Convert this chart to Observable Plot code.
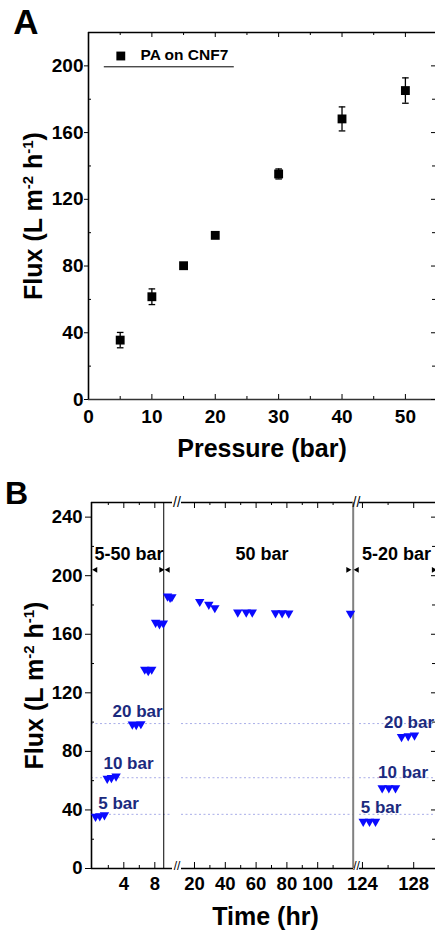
<!DOCTYPE html>
<html><head><meta charset="utf-8">
<script src="https://cdn.jsdelivr.net/npm/d3@7"></script>
<script src="https://cdn.jsdelivr.net/npm/@observablehq/plot@0.6"></script>
<style>
body{margin:0;background:#fff;}
#fig{position:relative;width:435px;height:932px;overflow:hidden;}
#fig svg{position:absolute;left:0;}
</style></head><body><div id="fig"></div>
<script>
// ---------- Panel A data ----------
const pressure = [5, 10, 15, 20, 30, 40, 50];
const fluxA = [35.6, 61.6, 80.2, 98.4, 135.2, 168.2, 185.2];
const errA = [4.6, 4.7, 1.5, 1.2, 3.0, 7.2, 7.6];
const seriesA = "PA on CNF7";
const xTicksA = [0, 10, 20, 30, 40, 50];
const xMinorA = [5, 15, 25, 35, 45];
const yTicksA = [0, 40, 80, 120, 160, 200];
const yMinorA = [20, 60, 100, 140, 180, 220];
const xDomainA = [0, 54.75];
const yDomainA = [0, 220];

// ---------- Panel B data (broken time axis: three segments) ----------
const seg1Time = [0.35, 0.9, 1.5, 1.86, 2.4, 3.0, 5.1, 5.6, 6.2, 6.7, 7.15, 7.6, 8.1, 8.6, 9.1, 9.64, 9.97, 10.2];
const seg1Flux = [35.5, 35.8, 36.5, 61.5, 62, 63, 98.5, 98.2, 98.8, 136, 135, 136, 168, 167, 167.5, 186, 185, 185.5];
const seg2Time = [23.4, 29.3, 33.2, 48.1, 53.6, 57.5, 72.6, 76.9, 81.2, 121.3];
const seg2Flux = [182.3, 180.3, 178, 175, 175, 175, 174.5, 174.5, 174.3, 174.2];
const seg3Time = [124.06, 124.55, 125.02, 125.54, 126.06, 126.58, 127.05, 127.57, 128.06];
const seg3Flux = [32.1, 32.1, 32.1, 55, 55, 55, 90, 90.5, 91];
const seg1Domain = [-0.17, 10.28];
const seg2Domain = [11.56, 123.25];
const seg3Domain = [123.77, 129.7];
const yDomainB = [0, 250];
const yTicksB = [0, 40, 80, 120, 160, 200, 240];
const yMinorB = [20, 60, 100, 140, 180, 220];
const seg1Ticks = [4, 8], seg1Minor = [2, 6];
const seg2Ticks = [20, 40, 60, 80, 100], seg2Minor = [30, 50, 70, 90, 110];
const seg3Ticks = [124, 128], seg3Minor = [126];
const refFlux = [37, 62, 99];
const pLabels = ["5 bar", "10 bar", "20 bar"];
const pLabelTime1 = [3.32, 4.6, 5.77], pLabelFlux1 = [44.4, 71.9, 107.3];
const pLabelTime3 = [125.45, 127.17, 127.63], pLabelFlux3 = [41.6, 65.6, 99.5];
const stageLabels = ["5-50 bar", "50 bar", "5-20 bar"];
const stageTime = [4.67, 63.9, 126.66];
const stageFlux = 214.5;
const arrowFlux = 204;
const arrowTime1 = [0.35, 8.8, 9.7], arrowDir1 = ["left", "right", "left"];
const arrowTime2 = [119.7], arrowDir2 = ["right"];
const arrowTime3 = [123.58, 129.55], arrowDir3 = ["left", "right"];
const sep1Time = 9.15, sep2Time = 123.05;
const yTitle = "Flux (L m-2 h-1)";

// ---------- styles ----------
const FONT = '"Liberation Sans", Arial, sans-serif';
const BLUE = "#0a0aff", NAVY = "#1b2a7e";
const hline = half => ({draw(ctx) { ctx.moveTo(-half, 0); ctx.lineTo(half, 0); }});
const tri = dir => ({draw(ctx, size) {
  const s = Math.sqrt(size * 4 / Math.sqrt(3)), h = s * Math.sqrt(3) / 2;
  const pts = {down: [[-s/2, -h/3], [s/2, -h/3], [0, 2*h/3]],
               left: [[h/3, -s/2], [h/3, s/2], [-2*h/3, 0]],
               right: [[-h/3, -s/2], [-h/3, s/2], [2*h/3, 0]]}[dir];
  ctx.moveTo(...pts[0]); ctx.lineTo(...pts[1]); ctx.lineTo(...pts[2]); ctx.closePath();
}});
const styleObj = {background: "transparent", fontFamily: FONT, overflow: "visible"};
const C = {textAnchor: "middle", lineAnchor: "middle"};
const fig = document.getElementById("fig");

function supify(svg) {
  svg.querySelectorAll("text").forEach(t => {
    if (t.textContent === yTitle) {
      t.textContent = "";
      const parts = [["Flux (L m", 0, null], ["-2", -9, 15], [" h", 9, null], ["-1", -9, 15], [")", 9, null]];
      for (const [s, dy, fs] of parts) {
        const ts = document.createElementNS("http://www.w3.org/2000/svg", "tspan");
        ts.textContent = s;
        if (dy) ts.setAttribute("dy", dy);
        if (fs) ts.setAttribute("font-size", fs);
        t.appendChild(ts);
      }
    }
  });
}

// ---------- Panel A ----------
const dataA = pressure.map((p, i) => ({p, f: fluxA[i], e: errA[i]}));
const mA = {l: 88, r: 0, t: 32, b: 71, h: 470};
const fwA = 435 - mA.l - mA.r, fhA = mA.h - mA.t - mA.b;
const plotA = Plot.plot({
  width: 435, height: mA.h, marginLeft: mA.l, marginRight: mA.r, marginTop: mA.t, marginBottom: mA.b,
  style: styleObj,
  x: {domain: xDomainA, axis: null}, y: {domain: yDomainA, axis: null},
  marks: [
    Plot.ruleX([xDomainA[0]], {x: d => d, stroke: "black", strokeWidth: 1.6}),
    Plot.ruleY([yDomainA[0]], {y: d => d, stroke: "#333", strokeWidth: 1.6}),
    Plot.ruleY([yDomainA[1]], {y: d => d, stroke: "black", strokeWidth: 1.4}),
    Plot.tickX(xTicksA, {x: d => d, insetTop: fhA - 5}),
    Plot.tickX(xMinorA, {x: d => d, insetTop: fhA - 3}),
    Plot.tickX(xTicksA, {x: d => d, insetBottom: fhA - 5}),
    Plot.tickX(xMinorA, {x: d => d, insetBottom: fhA - 3}),
    Plot.tickY(yMinorA, {y: d => d, insetRight: fwA - 3}),
    Plot.tickY(yTicksA, {y: d => d, insetLeft: fwA - 4}),
    Plot.tickY(yMinorA, {y: d => d, insetLeft: fwA - 3}),
    Plot.axisY(yTicksA, {tickSize: 4, tickPadding: 1, fontSize: 19, fontWeight: "bold", label: null}),
    Plot.axisX(xTicksA, {tickSize: 0, tickPadding: 9.5, fontSize: 19, fontWeight: "bold", label: null}),
    Plot.ruleX(dataA, {x: "p", y1: d => d.f - d.e, y2: d => d.f + d.e, stroke: "black", strokeWidth: 1.3}),
    Plot.dot(dataA, {x: "p", y: d => d.f - d.e, symbol: hline(3.3), fill: "none", stroke: "black", strokeWidth: 1.3}),
    Plot.dot(dataA, {x: "p", y: d => d.f + d.e, symbol: hline(3.3), fill: "none", stroke: "black", strokeWidth: 1.3}),
    Plot.dot(dataA, {x: "p", y: "f", symbol: "square", r: 5, fill: "black"}),
    // legend
    Plot.dot([seriesA], {frameAnchor: "top-left", dx: 32.3, dy: 23.5, symbol: "square", r: 5, fill: "black"}),
    Plot.text([seriesA], {text: d => d, frameAnchor: "top-left", dx: 52, dy: 23, textAnchor: "start", lineAnchor: "middle", fontSize: 15.5, fontWeight: "bold", fill: "black"}),
    Plot.dot([seriesA], {frameAnchor: "top-left", dx: 80.3, dy: 34.3, symbol: hline(65), fill: "none", stroke: "black", strokeWidth: 1}),
    // titles
    Plot.text(["Pressure (bar)"], {...C, text: d => d, frameAnchor: "bottom", dy: 49.6, fontSize: 25, fontWeight: "bold", fill: "black"}),
    Plot.text([yTitle], {...C, text: d => d, frameAnchor: "left", dx: -55, rotate: -90, fontSize: 25, fontWeight: "bold", fill: "black"}),
    Plot.text(["A"], {...C, text: d => d, frameAnchor: "top-left", dx: -62.5, dy: -9.5, fontSize: 35, fontWeight: "bold", fill: "black"})
  ]
});
plotA.style.top = "0px";
supify(plotA);
fig.appendChild(plotA);

// ---------- Panel B ----------
const mB = {t: 32, b: 64, h: 462};
const fhB = mB.h - mB.t - mB.b;
function segPlot(domain, mL, mR, marks) {
  const p = Plot.plot({
    width: 435, height: mB.h, marginLeft: mL, marginRight: mR, marginTop: mB.t, marginBottom: mB.b,
    style: styleObj,
    x: {domain, axis: null}, y: {domain: yDomainB, axis: null},
    marks
  });
  p.style.top = "470px";
  supify(p);
  fig.appendChild(p);
  return p;
}
const common = (ticks, minor) => [
  Plot.ruleY(refFlux, {y: d => d, stroke: "#a9aee8", strokeWidth: 1, strokeDasharray: "2,2.5"}),
  Plot.ruleY([yDomainB[0]], {y: d => d, stroke: "black", strokeWidth: 1.6}),
  Plot.ruleY([yDomainB[1]], {y: d => d, stroke: "black", strokeWidth: 1.4}),
  Plot.tickX(ticks, {x: d => d, insetTop: fhB - 6}),
  Plot.tickX(minor, {x: d => d, insetTop: fhB - 3}),
  Plot.tickX(ticks, {x: d => d, insetBottom: fhB - 6}),
  Plot.tickX(minor, {x: d => d, insetBottom: fhB - 3}),
  Plot.axisX(ticks, {tickSize: 0, tickPadding: 8.7, fontSize: 18.5, fontWeight: "bold", label: null})
];
const pts = (time, flux) => Plot.dot(time, {x: d => d, y: (d, i) => flux[i], symbol: tri("down"), r: 3.5, fill: BLUE});
const arrows = (time, dir) => ["left", "right"].map(k =>
  Plot.dot(time.filter((d, i) => dir[i] === k), {x: d => d, y: () => arrowFlux, symbol: tri(k), r: 2.2, fill: "black"}));
const stage = i => Plot.text([stageLabels[i]], {...C, text: d => d, x: () => stageTime[i], y: () => stageFlux, fontSize: 18, fontWeight: "bold", fill: "black"});
const plabels = (time, flux) => Plot.text(pLabels, {...C, text: d => d, x: (d, i) => time[i], y: (d, i) => flux[i], fontSize: 17, fontWeight: "bold", fill: NAVY});
const brk = dx => [
  Plot.text(["//"], {...C, text: d => d, frameAnchor: "top-right", dx, fontSize: 14, fill: "black"}),
  Plot.text(["//"], {...C, text: d => d, frameAnchor: "bottom-right", dx, dy: -2.5, fontSize: 12, fill: "black"})
];

// segment 1
const fw1 = 435 - 91 - 263;
segPlot(seg1Domain, 91, 263, [
  ...common(seg1Ticks, seg1Minor),
  Plot.ruleX([seg1Domain[0]], {x: d => d, stroke: "black", strokeWidth: 1.6}),
  Plot.ruleX([sep1Time], {x: d => d, stroke: "black", strokeWidth: 1}),
  Plot.tickY(yMinorB, {y: d => d, insetRight: fw1 - 3}),
  Plot.axisY(yTicksB, {tickSize: 6, tickPadding: 3, fontSize: 18.5, fontWeight: "bold", label: null}),
  pts(seg1Time, seg1Flux),
  plabels(pLabelTime1, pLabelFlux1),
  stage(0),
  ...arrows(arrowTime1, arrowDir1),
  ...brk(4.5),
  Plot.text([yTitle], {...C, text: d => d, frameAnchor: "left", dx: -57, rotate: -90, fontSize: 25, fontWeight: "bold", fill: "black"}),
  Plot.text(["B"], {...C, text: d => d, frameAnchor: "top-left", dx: -75, dy: -8.5, fontSize: 32, fontWeight: "bold", fill: "black"})
]);

// segment 2
segPlot(seg2Domain, 181, 82, [
  ...common(seg2Ticks, seg2Minor),
  Plot.ruleX([sep2Time], {x: d => d, stroke: "#808080", strokeWidth: 2}),
  pts(seg2Time, seg2Flux),
  stage(1),
  ...arrows(arrowTime2, arrowDir2),
  ...brk(3),
  Plot.text(["Time (hr)"], {...C, text: d => d, frameAnchor: "bottom", dx: -2, dy: 48.7, fontSize: 25, fontWeight: "bold", fill: "black"})
]);

// segment 3
const fw3 = 435 - 359;
segPlot(seg3Domain, 359, 0, [
  ...common(seg3Ticks, seg3Minor),
  Plot.tickY(yTicksB, {y: d => d, insetLeft: fw3 - 4}),
  Plot.tickY(yMinorB, {y: d => d, insetLeft: fw3 - 3}),
  pts(seg3Time, seg3Flux),
  plabels(pLabelTime3, pLabelFlux3),
  stage(2),
  ...arrows(arrowTime3, arrowDir3)
]);
</script></body></html>
